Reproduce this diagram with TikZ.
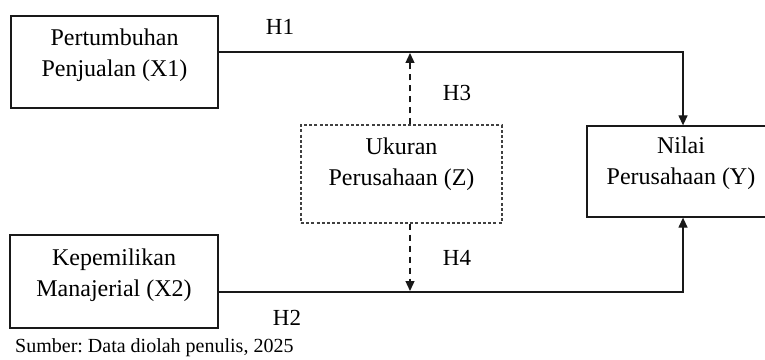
\documentclass[tikz,border=0pt]{standalone}
\usepackage{fontspec}
\setmainfont{Liberation Serif}
\usetikzlibrary{arrows.meta}
\frenchspacing
\begin{document}
\begin{tikzpicture}[x=1pt,y=1pt,
  box/.style={draw=black!90, line width=1.3pt, rectangle, inner sep=0pt},
  dbox/.style={draw=black!75, line width=1.3pt, dash pattern=on 3pt off 2.2pt, rectangle, inner sep=0pt},
  lbl/.style={align=center, inner sep=0pt, font=\fontsize{24}{31}\selectfont},
  hlbl/.style={inner sep=0pt, font=\fontsize{23}{28}\selectfont},
  arr/.style={draw=black!90, line width=1.3pt, -{Triangle[length=10pt,width=9pt]}},
  darr/.style={draw=black!90, line width=1.3pt, dash pattern=on 6pt off 5pt, -{Triangle[length=10pt,width=9pt]}}]
\useasboundingbox (0,0) rectangle (765,359);
% boxes
\node[box, minimum width=207pt, minimum height=92pt] (x1) at (114.5,297) {};
\node[box, minimum width=208pt, minimum height=93pt] (x2) at (114,77.5) {};
\node[dbox, minimum width=201pt, minimum height=98pt] (z) at (401.5,185) {};
\node[box, minimum width=188pt, minimum height=91pt] (y) at (681,187.5) {};
% box texts
\node[lbl] (x1t) at ([yshift=7pt]x1.center) {Pertumbuhan\\Penjualan (X1)};
\node[lbl] (x2t) at ([yshift=6pt]x2.center) {Kepemilikan\\Manajerial (X2)};
\node[lbl] (zt) at ([yshift=10pt]z.center) {Ukuran\\Perusahaan (Z)};
\node[lbl] (yt) at ([yshift=8pt]y.center) {Nilai\\Perusahaan (Y)};
% connectors
\draw[arr] ([yshift=10pt]x1.east) -| ([xshift=2pt]y.north);
\draw[arr] ([yshift=-10.5pt]x2.east) -| ([xshift=2pt]y.south);
\coordinate (t1) at (410,306);
\coordinate (t2) at (410,68);
\draw[darr] (z.north -| t1) -- (t1);
\draw[darr] (z.south -| t2) -- (t2);
% labels
\node[hlbl] (h1) at (280,332) {H1};
\node[hlbl] (h2) at (287,41) {H2};
\node[hlbl] (h3) at (457,266) {H3};
\node[hlbl] (h4) at (457,101) {H4};
\node[anchor=west, inner sep=0pt, font=\fontsize{20}{24}\selectfont] (src) at (15,11) {Sumber: Data diolah penulis, 2025};
\end{tikzpicture}
\end{document}
